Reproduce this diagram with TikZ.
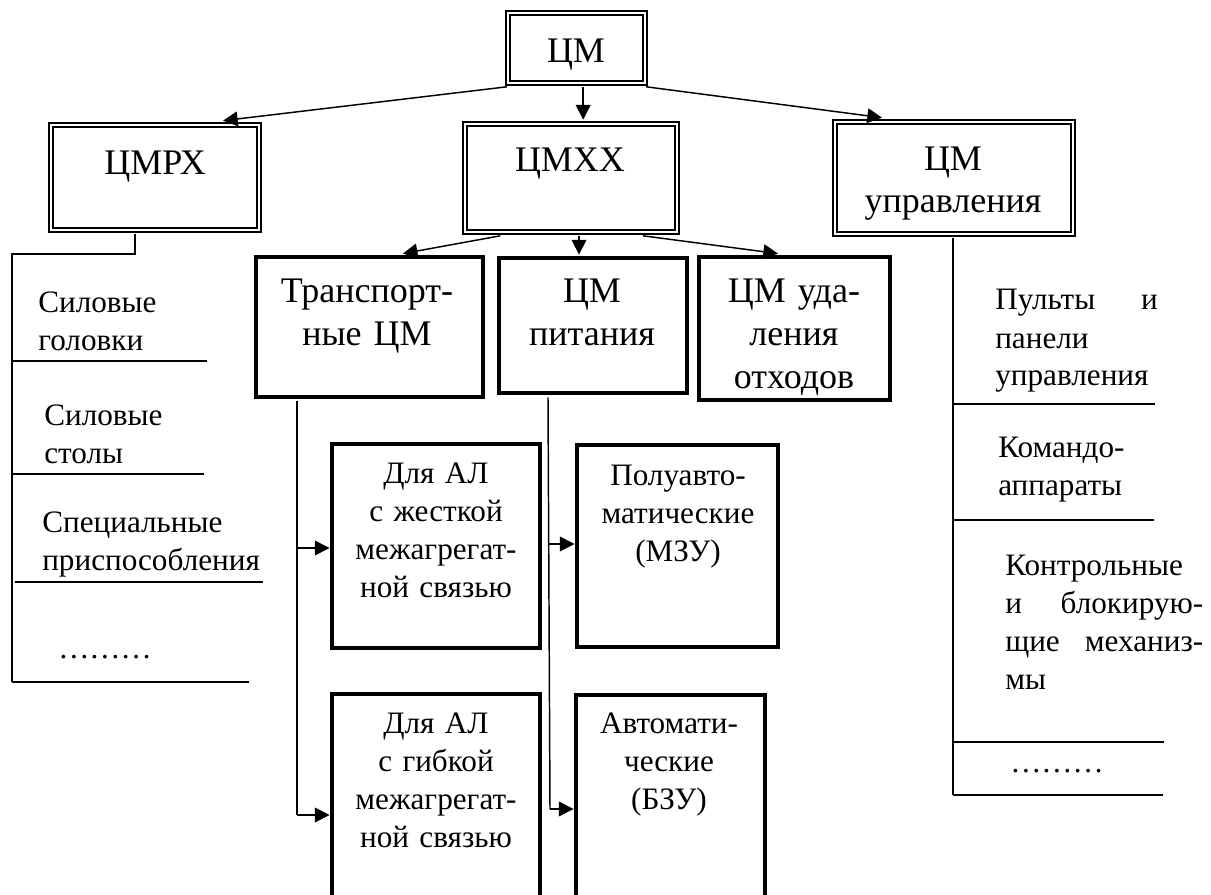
\documentclass[tikz,border=0pt]{standalone}
\usepackage{fontspec}
\setmainfont{Liberation Serif}
\usetikzlibrary{arrows.meta,fit,calc}
\begin{document}
\begin{tikzpicture}[x=0.75pt,y=-0.75pt,
  dbox/.style={draw, line width=1.7pt, double distance=1.6pt, inner sep=0pt},
  tbox/.style={draw, line width=2.7pt, inner sep=0pt},
  conn/.style={line width=1.1pt},
  arr/.style={conn, -{Triangle[length=11pt,width=11pt]}},
  big/.style={font=\fontsize{27}{32.5}\selectfont, inner sep=0pt},
  small/.style={font=\fontsize{23.4}{28.5}\selectfont, inner sep=0pt},
  bigc/.style={big, align=center, text width=#1},
  smallc/.style={small, align=center, text width=#1},
  smalll/.style={small, align=left, text width=#1},
]
\useasboundingbox (0,0) rectangle (1211,895);

% ---------- boxes ----------
\node[dbox, fit={(508,13) (645,83)}] (cm) {};
\node[dbox, fit={(51,125) (259,230)}] (cmrx) {};
\node[dbox, fit={(465,124) (677,232)}] (cmxx) {};
\node[dbox, fit={(835,122) (1073,234)}] (cmupr) {};
\node[tbox, fit={(256,257) (483,397)}] (tr) {};
\node[tbox, fit={(499,258) (687,393)}] (pit) {};
\node[tbox, fit={(699,257) (890,400)}] (ud) {};
\node[tbox, fit={(332,444) (540,648)}] (zh) {};
\node[tbox, fit={(577,445) (778,647)}] (polu) {};
\node[tbox, fit={(332,694) (540,920)}] (gib) {};
\node[tbox, fit={(576,695) (765,920)}] (avt) {};

% ---------- box texts ----------
\node[big, anchor=base] (cm-t) at (576,63) {ЦМ};
\node[big, anchor=base] (cmrx-t) at (155,175) {ЦМРХ};
\node[big, anchor=base] (cmxx-t) at (570,172) {ЦМХХ};
\node[bigc=200pt, anchor=base] (cmupr-t) at (953,171) {ЦМ\\[-1.5pt]управления};
\node[bigc=160pt, anchor=base] (tr-t) at (367,302) {Транспорт-\\ные ЦМ};
\node[bigc=140pt, anchor=base] (pit-t) at (592,302) {ЦМ\\питания};
\node[bigc=140pt, anchor=base] (ud-t) at (794,302) {ЦМ уда-\\ления\\отходов};
\node[smallc=155pt, anchor=base] (zh-t) at (436,483) {Для АЛ\\с жесткой\\межагрегат-\\ной связью};
\node[smallc=150pt, anchor=base] (polu-t) at (678,485) {Полуавто-\\матические\\(МЗУ)};
\node[smallc=155pt, anchor=base] (gib-t) at (436,733) {Для АЛ\\с гибкой\\межагрегат-\\ной связью};
\node[smallc=140pt, anchor=base] (avt-t) at (669,733) {Автомати-\\ческие\\(БЗУ)};

% ---------- main connectors ----------
\draw[arr] ([yshift=-2pt]cm.south west) -- ([xshift=51pt,yshift=2.4pt]cmrx.north);
\draw[arr] ([xshift=5pt,yshift=-2pt]cm.south) -- ([xshift=5pt,yshift=2.4pt]cm.south |- cmxx.north);
\draw[arr] ([yshift=-2pt]cm.south east) -- ([xshift=-54pt,yshift=2.4pt]cmupr.north);

\draw[arr] ([xshift=-53pt,yshift=-2pt]cmxx.south) -- ([xshift=25pt,yshift=1.2pt]tr.north);
\draw[arr] ([xshift=6pt,yshift=-2pt]cmxx.south) -- ([xshift=6pt,yshift=1.2pt]cmxx.south |- pit.north);
\draw[arr] ([xshift=54pt,yshift=-2pt]cmxx.south) -- ([xshift=-12.4pt,yshift=1.2pt]ud.north);

% ---------- left list (ЦМРХ) ----------
\coordinate (lv-top) at (12,254);
\coordinate (lv-bot) at (12,682);
\draw[conn] ([xshift=-15pt,yshift=-2pt]cmrx.south) |- (lv-top) -- (lv-bot);
\draw[conn] (lv-top |- 0,361) -- (207,361);
\draw[conn] (lv-top |- 0,474) -- (204,474);
\draw[conn] (15,582) -- (263,582);
\draw[conn] (lv-bot) -- (249,682);
\node[smalll=180pt, anchor=base west] (l1) at (38,312) {Силовые\\головки};
\node[smalll=180pt, anchor=base west] (l2) at (44,425) {Силовые\\столы};
\node[smalll=200pt, anchor=base west] (l3) at (42,532) {Специальные\\приспособления};
\node[small, anchor=base west] (l4) at (58,658) {………};

% ---------- right list (ЦМ управления) ----------
\coordinate (rv-bot) at (953,795);
\draw[conn] ([yshift=-2pt]cmupr.south -| rv-bot) -- (rv-bot);
\draw[conn] (rv-bot |- 0,404) -- (1155,404);
\draw[conn] (rv-bot |- 0,520) -- (1154,520);
\draw[conn] (rv-bot |- 0,742) -- (1164,742);
\draw[conn] (rv-bot) -- (1163,795);
\node[smalll=130pt, anchor=base west] (r1) at (995,310) {\leavevmode\hbox to 122pt{Пульты\hfill и}\\панели\\управления};
\node[smalll=130pt, anchor=base west] (r2) at (998,457) {Командо-\\аппараты};
\node[smalll=160pt, anchor=base west] (r3) at (1005,575) {Контрольные\\\leavevmode\hbox to 148.5pt{и\hfill блокирую-}\\\leavevmode\hbox to 148.5pt{щие\hfill механиз-}\\мы};
\node[small, anchor=base west] (r4) at (1010,772) {………};

% ---------- transport branch ----------
\coordinate (trx) at ([xshift=-54.4pt,yshift=-2pt]tr.south);
\coordinate (ta1) at (trx |- 0,548);
\coordinate (ta2) at (trx |- 0,815);
\draw[conn] (trx) -- (ta2);
\draw[arr] (ta1) -- ([xshift=-0.5pt]zh.west |- ta1);
\draw[arr] (ta2) -- ([xshift=-0.5pt]gib.west |- ta2);

% ---------- feeding branch ----------
\coordinate (ptx) at ([xshift=-33.75pt,yshift=-2pt]pit.south);
\coordinate (pa1) at (548.7,544);
\coordinate (pa2) at (550,809);
\draw[conn] (ptx) -- (pa2);
\draw[arr] (pa1) -- ([xshift=-0.5pt]polu.west |- pa1);
\draw[arr] (pa2) -- ([xshift=-0.5pt]avt.west |- pa2);
\end{tikzpicture}
\end{document}
